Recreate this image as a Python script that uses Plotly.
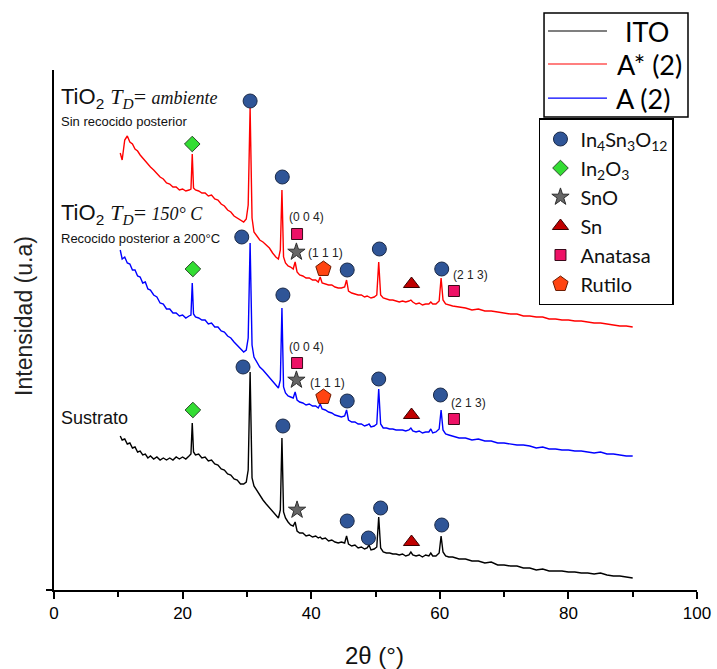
import plotly.graph_objects as go

# ---------------- diffraction patterns (shared 2-theta grid) ----------------
TWO_THETA = [
    10.3, 10.6, 11.0, 11.4, 11.8, 12.2, 12.6, 13.0, 13.4, 13.8, 14.2, 14.6, 15.0, 15.5, 16.0, 16.5, 17.0, 17.5, 18.0, 18.5, 19.0, 19.5, 20.0, 20.5, 21.0,
    21.3, 21.5, 21.7, 22.0, 22.5, 23.0, 23.5, 24.0, 24.5, 25.0, 25.5, 26.0, 26.5, 27.0, 27.5, 28.0, 28.5, 29.0, 29.5, 29.9,
    30.2, 30.5, 30.8, 31.1, 31.5, 32.0, 32.5, 33.0, 33.5, 34.0, 34.5, 34.9, 35.2, 35.45, 35.7, 36.0, 36.4, 36.8, 37.2,
    37.5, 37.8, 38.2, 38.7, 39.2, 39.7, 40.2, 40.7, 41.1, 41.4, 41.7, 42.2, 42.7, 43.2, 43.7, 44.2, 44.7, 45.2,
    45.5, 45.8, 46.3, 46.8, 47.3, 47.8, 48.3, 48.7, 49.0, 49.3, 49.8, 50.2, 50.5, 50.8, 51.2, 51.7, 52.2, 52.7, 53.2, 53.7, 54.2, 54.7, 55.2,
    55.5, 55.8, 56.3, 56.8, 57.3, 57.8, 58.3, 58.6, 58.9, 59.4, 59.9, 60.2, 60.5, 60.9, 61.4,
    62, 63, 64, 65, 66, 67, 68, 69, 70, 71, 72, 73, 74, 75, 76, 77, 78, 79, 80, 81, 82, 83, 84, 85, 86, 87, 88, 89, 90,
]

ITO = [
    154, 150, 151, 146, 147, 142, 143, 138, 139, 135, 136, 132, 134, 131, 133, 130, 132, 130, 132, 130, 133, 131, 133, 131, 134,
    136, 167, 138, 135, 136, 132, 133, 129, 130, 126, 125, 121, 120, 116, 115, 111, 110, 106, 106, 108,
    120, 218, 112, 104, 100, 94, 90, 86, 82, 79, 75, 72, 80, 152, 78, 72, 68, 65, 64,
    68, 59, 57, 57, 54, 55, 53, 54, 52, 53, 51, 52, 49, 50, 48, 47, 48, 47,
    54, 46, 44, 45, 42, 43, 41, 42, 45, 40, 41, 43, 73, 42, 38, 37, 37, 36, 36, 35, 36, 34, 35,
    38, 35, 34, 35, 33, 35, 34, 37, 34, 34, 37, 54, 38, 34, 33,
    33, 31, 31, 29, 29, 27, 28, 25, 25, 24, 24, 22, 22, 20, 21, 19, 19, 19, 18, 18, 17, 17, 16, 17, 15, 14, 14, 13, 12,
]

A_STAR_2 = [
    437, 430, 450, 454, 448, 446, 441, 439, 435, 432, 429, 425, 423, 420, 416, 413, 411, 407, 406, 403, 403, 400, 401, 399, 400,
    401, 436, 402, 400, 399, 397, 397, 394, 395, 391, 390, 386, 384, 380, 378, 374, 372, 370, 368, 371,
    385, 482, 372, 358, 354, 350, 348, 345, 342, 337, 333, 331, 340, 400, 333, 327, 324, 323, 321,
    328, 318, 315, 314, 312, 312, 310, 310, 308, 313, 307, 306, 305, 305, 303, 302, 302, 303,
    310, 299, 297, 296, 295, 295, 293, 294, 293, 292, 293, 295, 328, 295, 292, 291, 290, 290, 289, 288, 289, 288, 289,
    290, 288, 286, 287, 285, 286, 286, 288, 286, 286, 289, 312, 290, 286, 285,
    284, 283, 282, 280, 281, 279, 279, 278, 277, 276, 276, 274, 274, 273, 273, 271, 271, 270, 270, 269, 269, 268, 267, 267, 266, 265, 264, 264, 263,
]

A_2 = [
    340, 331, 333, 327, 326, 320, 320, 314, 313, 307, 308, 301, 300, 295, 293, 287, 286, 281, 281, 277, 277, 274, 275, 272, 274,
    275, 307, 276, 273, 272, 270, 270, 266, 267, 263, 263, 259, 258, 254, 252, 248, 245, 241, 238, 240,
    252, 347, 245, 233, 229, 223, 220, 216, 213, 208, 205, 202, 210, 282, 203, 197, 194, 193, 192,
    198, 190, 188, 187, 185, 186, 184, 184, 182, 186, 181, 180, 178, 177, 175, 174, 173, 174,
    180, 170, 168, 168, 166, 166, 164, 165, 166, 163, 164, 166, 201, 166, 162, 162, 161, 161, 160, 160, 160, 159, 160,
    162, 159, 158, 159, 157, 158, 158, 161, 157, 158, 161, 180, 160, 156, 155,
    154, 152, 152, 150, 151, 149, 149, 147, 147, 146, 145, 145, 144, 142, 143, 141, 141, 140, 140, 139, 139, 138, 137, 138, 136, 136, 135, 134, 134,
]

# ---------------- phase identification markers ----------------
IN4SN3O12_X = [30.5, 35.5, 45.6, 50.6, 60.3, 29.2, 35.6, 45.6, 50.5, 60.1, 29.4, 35.6, 45.6, 48.9, 50.8, 60.3]
IN4SN3O12_Y = [489, 413, 320, 341, 321, 353, 295, 189, 211, 195, 223, 164, 69, 52, 82, 65]
IN2O3_X = [21.5, 21.6, 21.6]
IN2O3_Y = [446, 321, 180]
SNO_X = [37.7, 37.7, 37.8]
SNO_Y = [338, 210, 80]
SN_X = [55.6, 55.6, 55.6]
SN_Y = [306, 175, 48]
ANATASA_X = [37.8, 62.2, 37.8, 62.2]
ANATASA_Y = [356, 299, 227, 171]
RUTILO_X = [41.9, 41.9]
RUTILO_Y = [321, 193]

# Miller indices
HKL_TEXT = ["(0 0 4)", "(1 1 1)", "(2 1 3)", "(0 0 4)", "(1 1 1)", "(2 1 3)"]
HKL_X = [39.3, 42.3, 64.7, 39.3, 42.6, 64.4]
HKL_Y = [373, 337, 315, 243, 207, 187]

SERIES_NAMES = ["ITO", "A* (2)", "A (2)"]
SERIES_COLORS = ["#000000", "#FF0000", "#0000FF"]

SANS = "Liberation Sans, Arial, sans-serif"
LEG_FONT = "Lato, Liberation Sans, sans-serif"

fig = go.Figure()

for name, ys, color in zip(SERIES_NAMES, [ITO, A_STAR_2, A_2], SERIES_COLORS):
    fig.add_trace(go.Scatter(x=TWO_THETA, y=ys, mode="lines", name=name,
                             line=dict(color=color, width=1.4), showlegend=False))

phases = [
    ("In<sub>4</sub>Sn<sub>3</sub>O<sub>12</sub>", IN4SN3O12_X, IN4SN3O12_Y, "circle", 14, "#2F5597", "#1B2A48"),
    ("In<sub>2</sub>O<sub>3</sub>", IN2O3_X, IN2O3_Y, "diamond", 12, "#33DD33", "#2A4A2A"),
    ("SnO", SNO_X, SNO_Y, "star", 13, "#666666", "#2E2E2E"),
    ("Sn", SN_X, SN_Y, "triangle-up", 14, "#C00000", "#3A0000"),
    ("Anatasa", ANATASA_X, ANATASA_Y, "square", 11, "#EE1166", "#3A0A1A"),
    ("Rutilo", RUTILO_X, RUTILO_Y, "pentagon", 16, "#FF4411", "#6A1A00"),
]
for name, xs, ys, sym, size, fill, edge in phases:
    fig.add_trace(go.Scatter(x=xs, y=ys, mode="markers", name=name,
                             marker=dict(symbol=sym, size=size, color=fill,
                                         line=dict(color=edge, width=1))))

annotations = []
for t, x, y in zip(HKL_TEXT, HKL_X, HKL_Y):
    annotations.append(dict(x=x, y=y, xref="x", yref="y", text=t, showarrow=False,
                            xanchor="center", yanchor="middle",
                            font=dict(family=SANS, size=12, color="#222")))

def deposition_label(temperature):
    return ("TiO<sub>2</sub> <span style='font-family:Liberation Serif'><i>T<sub>D</sub></i>= "
            "<span style='font-size:18px'><i>" + temperature + "</i></span></span>")

side_labels = [
    (deposition_label("ambiente"), 492, 22),
    ("Sin recocido posterior", 469, 13),
    (deposition_label("150° C"), 376, 22),
    ("Recocido posterior a 200°C", 352, 13),
    ("Sustrato", 172, 18),
]
for t, y, s in side_labels:
    annotations.append(dict(x=0.7, y=y, xref="x", yref="y", text=t, showarrow=False,
                            xanchor="left", yanchor="middle",
                            font=dict(family=SANS, size=s, color="#111")))

# axis titles
annotations.append(dict(x=0.499, y=-0.125, xref="paper", yref="paper", text="2θ (°)",
                        xanchor="center", yanchor="middle",
                        showarrow=False, font=dict(family=SANS, size=24, color="#111")))
annotations.append(dict(x=-0.0467, y=0.527, xref="paper", yref="paper", text="Intensidad (u.a)",
                        xanchor="center", yanchor="middle",
                        showarrow=False, textangle=-90,
                        font=dict(family=SANS, size=23, color="#222")))

# line-series key box
shapes = [dict(type="rect", xref="paper", yref="paper", x0=0.7621, x1=0.9860, y0=0.9096, y1=1.1096,
               line=dict(color="black", width=1.5), fillcolor="white", layer="above")]
key_rows = [1.075, 1.0115, 0.946]
key_text_x = [0.9215, 0.9254, 0.9160]
for name, color, yr, xt in zip(SERIES_NAMES, SERIES_COLORS, key_rows, key_text_x):
    shapes.append(dict(type="line", xref="paper", yref="paper", x0=0.7683, x1=0.8600, y0=yr, y1=yr,
                       line=dict(color=color, width=1.2), layer="above"))
    annotations.append(dict(x=xt, y=yr, xref="paper", yref="paper", text=name, showarrow=False,
                            xanchor="center", yanchor="middle",
                            font=dict(family=LEG_FONT, size=27, color="black")))

fig.update_layout(
    width=717, height=669,
    margin=dict(l=54, r=20, t=70, b=79, autoexpand=False),
    paper_bgcolor="white", plot_bgcolor="white",
    showlegend=True,
    legend=dict(x=0.7517, y=0.8236, xref="container", yref="container",
                xanchor="left", yanchor="top",
                bordercolor="black", borderwidth=1.5, bgcolor="white",
                font=dict(family=LEG_FONT, size=20, color="#111"),
                tracegroupgap=2),
    annotations=annotations,
    shapes=shapes,
)

fig.update_xaxes(range=[0, 100], tickvals=[0, 20, 40, 60, 80, 100],
                 ticks="outside", ticklen=7, tickwidth=1.5, tickcolor="black",
                 minor=dict(tickvals=[10, 30, 50, 70, 90], ticks="outside", ticklen=5,
                            tickwidth=1.5, tickcolor="black"),
                 showline=True, linecolor="black", linewidth=2, showgrid=False, zeroline=False,
                 tickfont=dict(family=SANS, size=17, color="black"))
fig.update_yaxes(range=[0, 520], tickvals=[0], showticklabels=False,
                 ticks="outside", ticklen=6, tickwidth=1.5, tickcolor="black",
                 showline=True, linecolor="black", linewidth=2, showgrid=False, zeroline=False)

fig.write_html("out.html")
